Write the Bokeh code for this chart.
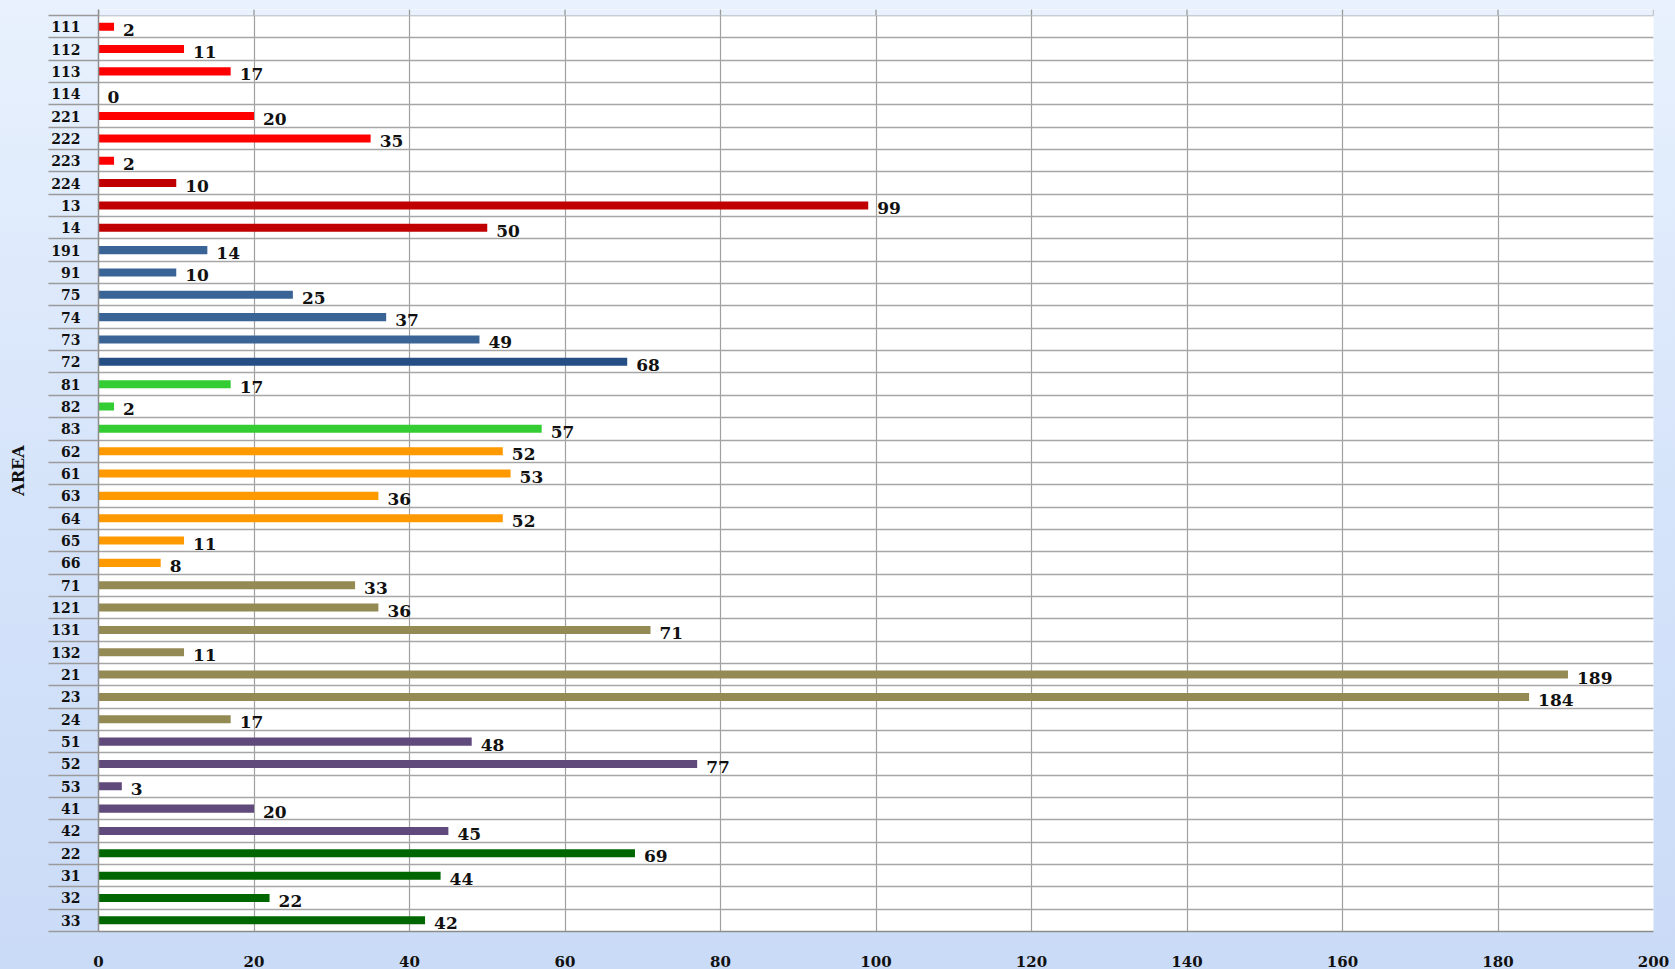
from bokeh.plotting import figure
from bokeh.models import ColumnDataSource, FixedTicker, Range1d, GlobalInlineStyleSheet
from bokeh.core.properties import value
from bokeh.embed import file_html
from bokeh.resources import INLINE

# ---- data (top to bottom) ----
areas = ["111", "112", "113", "114", "221", "222", "223", "224", "13", "14",
         "191", "91", "75", "74", "73", "72", "81", "82", "83", "62",
         "61", "63", "64", "65", "66", "71", "121", "131", "132", "21",
         "23", "24", "51", "52", "53", "41", "42", "22", "31", "32", "33"]
counts = [2, 11, 17, 0, 20, 35, 2, 10, 99, 50,
          14, 10, 25, 37, 49, 68, 17, 2, 57, 52,
          53, 36, 52, 11, 8, 33, 36, 71, 11, 189,
          184, 17, 48, 77, 3, 20, 45, 69, 44, 22, 42]
colors = ["#FF0000"] * 7 + ["#C00000"] * 3 + ["#3A6496"] * 5 + ["#254E84"] \
    + ["#33CC33"] * 3 + ["#FF9900"] * 6 + ["#948A54"] * 7 + ["#604A7B"] * 5 + ["#006600"] * 4
x_ticks = [0, 20, 40, 60, 80, 100, 120, 140, 160, 180, 200]

n = len(areas)
ypos = [n - i - 0.5 for i in range(n)]
src = ColumnDataSource(dict(y=ypos, v=counts, c=colors, lab=[str(v) for v in counts]))

FONT = "DejaVu Serif"
TOP_PAD = 0.27  # room above the top row line, where the vertical lines stick out

p = figure(width=1675, height=969, output_backend="svg", toolbar_location=None,
           x_range=Range1d(0, 200), y_range=Range1d(0, n + TOP_PAD),
           min_border_left=98, min_border_right=22, min_border_top=9, min_border_bottom=36)

# pale strip above the top boundary (vertical lines poke through it)
p.quad(left=0, right=200, bottom=n, top=n + TOP_PAD, fill_color="#E8F1FD", line_color=None)
p.segment(x0=x_ticks, x1=x_ticks, y0=[n] * len(x_ticks), y1=[n + TOP_PAD] * len(x_ticks),
          line_color="#9A9A9A", line_width=1.3)

p.hbar(y="y", right="v", left=0, height=0.36, fill_color="c", line_color=None, source=src)
p.text(x="v", y="y", text="lab", source=src, x_offset=9, y_offset=3,
       text_font=value(FONT), text_font_style="bold", text_font_size="17px",
       text_baseline="middle", text_align="left", text_color="#111111")

# x axis
p.xaxis.ticker = FixedTicker(ticks=x_ticks)
p.xaxis.major_label_text_font = FONT
p.xaxis.major_label_text_font_style = "bold"
p.xaxis.major_label_text_font_size = "15px"
p.xaxis.major_label_text_color = "#111111"
p.xaxis.major_tick_line_color = None
p.xaxis.minor_tick_line_color = None
p.xaxis.major_label_standoff = 18
p.xaxis.axis_line_color = "#8C8C8C"
p.xaxis.axis_line_width = 1.5

# y axis
p.yaxis.ticker = FixedTicker(ticks=ypos, minor_ticks=list(range(n + 1)))
p.yaxis.major_label_overrides = {y: a for y, a in zip(ypos, areas)}
p.yaxis.major_tick_line_color = None
p.yaxis.major_tick_out = 0
p.yaxis.major_tick_in = 0
p.yaxis.minor_tick_out = 50
p.yaxis.minor_tick_in = 0
p.yaxis.minor_tick_line_color = "#9A9A9A"
p.yaxis.minor_tick_line_width = 1.3
p.yaxis.major_label_standoff = -32
p.yaxis.major_label_text_font = FONT
p.yaxis.major_label_text_font_style = "bold"
p.yaxis.major_label_text_font_size = "14px"
p.yaxis.major_label_text_color = "#111111"
p.yaxis.axis_line_color = "#8C8C8C"
p.yaxis.axis_line_width = 1.5
p.yaxis.axis_label = "AREA"
p.yaxis.axis_label_text_font = FONT
p.yaxis.axis_label_text_font_style = "bold"
p.yaxis.axis_label_text_font_size = "16px"
p.yaxis.axis_label_text_color = "#111111"
p.yaxis.axis_label_standoff = 20

# grids
p.xgrid.ticker = FixedTicker(ticks=x_ticks)
p.xgrid.grid_line_color = "#A0A0A0"
p.xgrid.grid_line_width = 1.2
p.ygrid.ticker = FixedTicker(ticks=list(range(n + 1)))
p.ygrid.grid_line_color = "#A6A6A6"
p.ygrid.grid_line_width = 1.5

p.outline_line_color = None
p.background_fill_color = "white"
p.border_fill_alpha = 0
p.stylesheets = [GlobalInlineStyleSheet(css="html {background: #CADBF7 linear-gradient(to bottom, #E8F1FD 0%, #D6E4FA 50%, #CADBF7 100%) no-repeat;}")]

open("out.html", "w").write(file_html(p, INLINE))
